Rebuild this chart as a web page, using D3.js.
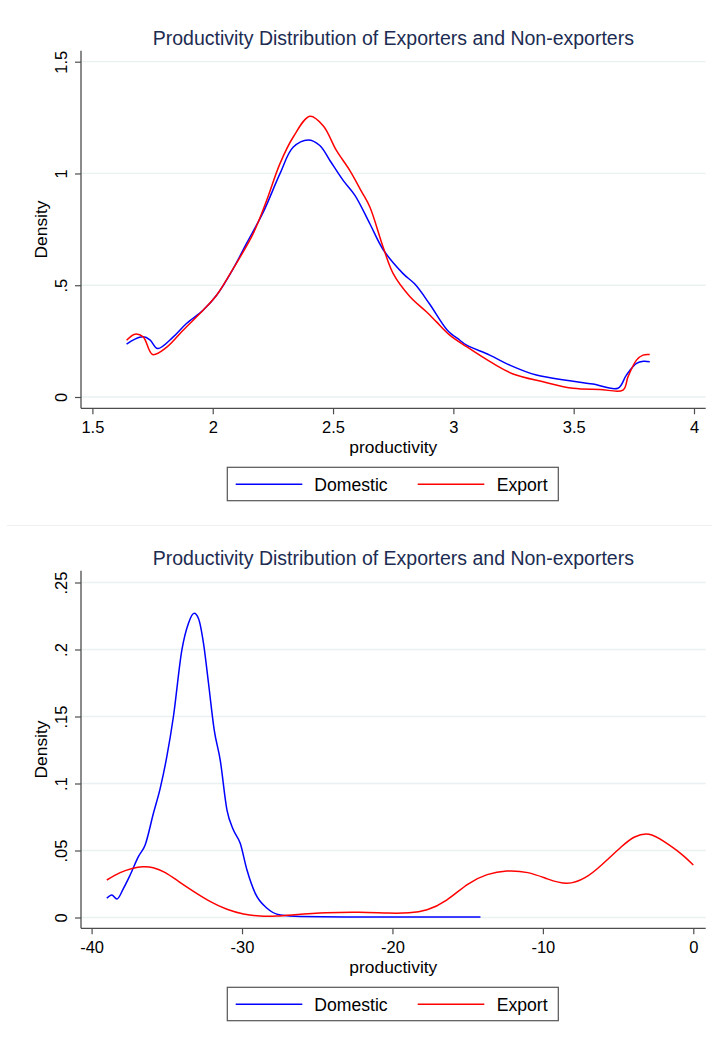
<!DOCTYPE html>
<html>
<head>
<meta charset="utf-8">
<script src="https://cdn.jsdelivr.net/npm/d3@7/dist/d3.min.js"></script>
<style>
  body { margin: 0; background: #fff; }
  svg text { font-family: "Liberation Sans", Arial, Helvetica, sans-serif; fill: #000; }
</style>
</head>
<body>
<svg id="chart" width="712" height="1039"></svg>
<script>
// ---- data ----
var titleText = "Productivity Distribution of Exporters and Non-exporters";
var seriesNames = ["Domestic", "Export"];
var seriesColors = ["#0000ff", "#ff0000"];

// panel 1: log productivity
var topXTicks = [1.5, 2, 2.5, 3, 3.5, 4];
var topXLabels = ["1.5", "2", "2.5", "3", "3.5", "4"];
var topYTicks = [0, 0.5, 1, 1.5];
var topYLabels = ["0", ".5", "1", "1.5"];

var topDomestic = [[1.642,0.237],[1.675,0.258],[1.711,0.269],[1.739,0.256],[1.771,0.217],[1.836,0.269],
  [1.891,0.329],[1.96,0.388],[2.016,0.455],[2.085,0.574],[2.14,0.686],[2.21,0.827],[2.279,0.998],
  [2.334,1.117],[2.397,1.150],[2.445,1.125],[2.487,1.058],[2.542,0.969],[2.591,0.902],[2.653,0.775],
  [2.708,0.660],[2.791,0.552],[2.84,0.505],[2.902,0.415],[2.975,0.299],[3.027,0.254],[3.055,0.232],
  [3.151,0.1875],[3.234,0.143],[3.345,0.098],[3.484,0.073],[3.58,0.058],[3.684,0.039],[3.719,0.098],
  [3.761,0.150],[3.79,0.16],[3.816,0.158]];

var topExport = [[1.642,0.254],[1.677,0.281],[1.711,0.269],[1.75,0.19],[1.808,0.222],[1.877,0.299],
  [1.96,0.388],[2.016,0.455],[2.085,0.574],[2.168,0.731],[2.224,0.879],[2.279,1.043],[2.334,1.162],
  [2.404,1.256],[2.459,1.214],[2.514,1.103],[2.57,1.013],[2.618,0.92],[2.653,0.85],[2.708,0.671],
  [2.75,0.552],[2.819,0.45],[2.888,0.381],[2.93,0.336],[2.985,0.277],[3.055,0.225],[3.165,0.150],
  [3.248,0.103],[3.373,0.068],[3.497,0.039],[3.608,0.034],[3.705,0.031],[3.726,0.091],[3.761,0.165],
  [3.788,0.1875],[3.816,0.19]];

// panel 2: productivity in levels
var botXTicks = [-40, -30, -20, -10, 0];
var botXLabels = ["-40", "-30", "-20", "-10", "0"];
var botYTicks = [0, 0.05, 0.1, 0.15, 0.2, 0.25];
var botYLabels = ["0", ".05", ".1", ".15", ".2", ".25"];

var botDomestic = [[-38.99,0.0143],[-38.66,0.0168],[-38.32,0.0138],[-37.88,0.0218],[-37.44,0.0317],
  [-36.89,0.0454],[-36.44,0.0541],[-35.89,0.0778],[-35.44,0.0964],[-35.0,0.12],[-34.56,0.15],
  [-34.0,0.1996],[-33.56,0.2196],[-33.18,0.227],[-32.89,0.223],[-32.56,0.2046],[-32.23,0.175],
  [-31.85,0.14],[-31.45,0.1175],[-31.0,0.0802],[-30.57,0.0653],[-30.12,0.0554],[-29.67,0.0354],
  [-29.12,0.018],[-28.34,0.0069],[-27.46,0.0019],[-26.13,0.0008],[-22,0.0004],[-18,0.0003],[-14.15,0.0003]];

var botExport = [[-38.99,0.028],[-38.1,0.0335],[-37.3,0.0366],[-36.6,0.0379],[-35.9,0.0372],
  [-35.1,0.0335],[-34.2,0.0268],[-33.2,0.0193],[-32.1,0.0118],[-31.0,0.0061],[-29.9,0.0026],
  [-28.8,0.0011],[-27.7,0.0011],[-26.5,0.002],[-24.4,0.0035],[-22.2,0.0039],[-20.3,0.0033],
  [-18.9,0.0035],[-17.7,0.0058],[-16.4,0.013],[-15.0,0.0248],[-13.7,0.032],[-12.4,0.0347],
  [-11.0,0.0335],[-9.7,0.0288],[-8.4,0.0255],[-7.2,0.0297],[-6.1,0.0392],[-4.8,0.0526],
  [-3.9,0.0601],[-2.95,0.0621],[-1.96,0.0568],[-0.85,0.0479],[0.0,0.0392]];

// ---- layout ----
var plot = { left: 81, right: 705.7, top: 50.7, bottom: 408.3 };
var axisColor = "#4d4d4d";
var gridColor = "#e9f1f3";

var svg = d3.select("#chart");

// faint edge between the two graphs
svg.append("line")
  .attr("x1", 7).attr("x2", 712).attr("y1", 525.5).attr("y2", 525.5)
  .attr("stroke", "#efefef").attr("stroke-width", 1);

function drawPanel(offsetY, cfg) {
  var g = svg.append("g").attr("transform", "translate(0," + offsetY + ")");

  var x = d3.scaleLinear().domain(cfg.xDomain).range(cfg.xRange);
  var y = d3.scaleLinear().domain(cfg.yDomain).range(cfg.yRange);

  // gridlines
  g.selectAll(".grid")
    .data(cfg.yTicks)
    .enter().append("line")
    .attr("x1", plot.left).attr("x2", plot.right)
    .attr("y1", d => y(d)).attr("y2", d => y(d))
    .attr("stroke", gridColor).attr("stroke-width", 1.3);

  // y axis
  var yAxis = d3.axisLeft(y).tickValues(cfg.yTicks).tickSize(6).tickSizeOuter(0)
    .tickFormat((d, i) => cfg.yLabels[i]);
  var ya = g.append("g").attr("transform", "translate(" + plot.left + ",0)").call(yAxis);
  ya.select(".domain").remove();
  ya.append("line").attr("x1", 0).attr("x2", 0).attr("y1", plot.top).attr("y2", plot.bottom)
    .attr("stroke", axisColor).attr("stroke-width", 1.3);
  ya.selectAll(".tick line").attr("stroke", axisColor).attr("stroke-width", 1.2);
  ya.selectAll(".tick text")
    .attr("x", null).attr("dy", null)
    .attr("text-anchor", "middle")
    .attr("transform", "translate(-14.5,0) rotate(-90)")
    .style("font-size", "16.5px").style("fill", "#000");

  // x axis
  var xAxis = d3.axisBottom(x).tickValues(cfg.xTicks).tickSize(6).tickSizeOuter(0)
    .tickFormat((d, i) => cfg.xLabels[i]);
  var xa = g.append("g").attr("transform", "translate(0," + plot.bottom + ")").call(xAxis);
  xa.select(".domain").remove();
  xa.append("line").attr("x1", plot.left).attr("x2", plot.right).attr("y1", 0).attr("y2", 0)
    .attr("stroke", axisColor).attr("stroke-width", 1.3);
  xa.selectAll(".tick line").attr("stroke", axisColor).attr("stroke-width", 1.2);
  xa.selectAll(".tick text")
    .attr("y", 25).attr("dy", null)
    .style("font-size", "16.5px").style("fill", "#000");

  // curves
  [cfg.domestic, cfg.exportS].forEach((s, i) => {
    var line = d3.line()
      .x(d => x(d[0]))
      .y(d => y(d[1]))
      .curve(cfg.curves[i]);
    g.append("path")
      .datum(s)
      .attr("d", line)
      .attr("fill", "none")
      .attr("stroke", seriesColors[i])
      .attr("stroke-width", 1.5)
      .attr("stroke-linejoin", "round");
  });

  // title & axis titles
  g.append("text")
    .attr("x", (plot.left + plot.right) / 2).attr("y", 44.5)
    .attr("text-anchor", "middle")
    .style("font-size", "19.5px").style("fill", "#1c2c52")
    .text(titleText);

  g.append("text")
    .attr("x", (plot.left + plot.right) / 2).attr("y", 452.5)
    .attr("text-anchor", "middle")
    .style("font-size", "17.4px")
    .text("productivity");

  g.append("text")
    .attr("transform", "translate(46.5," + ((plot.top + plot.bottom) / 2) + ") rotate(-90)")
    .attr("text-anchor", "middle")
    .style("font-size", "17.4px")
    .text("Density");

  // legend
  var lg = g.append("g");
  lg.append("rect")
    .attr("x", 227.3).attr("y", 467.3).attr("width", 331).attr("height", 33.4)
    .attr("fill", "#fff").attr("stroke", "#555").attr("stroke-width", 1.2);
  var legendItems = [{ x1: 235.7, x2: 302.3, tx: 314.3 }, { x1: 417.7, x2: 484.3, tx: 496.7 }];
  legendItems.forEach((it, i) => {
    lg.append("line")
      .attr("x1", it.x1).attr("x2", it.x2).attr("y1", 484.3).attr("y2", 484.3)
      .attr("stroke", seriesColors[i]).attr("stroke-width", 1.5);
    lg.append("text")
      .attr("x", it.tx).attr("y", 491)
      .style("font-size", "17.6px")
      .text(seriesNames[i]);
  });
}

drawPanel(0, {
  xDomain: [1.5, 4], xRange: [92.4, 694],
  yDomain: [0, 1.5], yRange: [397, 61.7],
  xTicks: topXTicks, xLabels: topXLabels,
  yTicks: topYTicks, yLabels: topYLabels,
  domestic: topDomestic, exportS: topExport,
  curves: [d3.curveCatmullRom.alpha(0.5), d3.curveCatmullRom.alpha(0.5)]
});

drawPanel(520, {
  xDomain: [-40, 0], xRange: [91.6, 693.3],
  yDomain: [0, 0.25], yRange: [397.5, 62.5],
  xTicks: botXTicks, xLabels: botXLabels,
  yTicks: botYTicks, yLabels: botYLabels,
  domestic: botDomestic, exportS: botExport,
  curves: [d3.curveMonotoneX, d3.curveNatural]
});
</script>
</body>
</html>
